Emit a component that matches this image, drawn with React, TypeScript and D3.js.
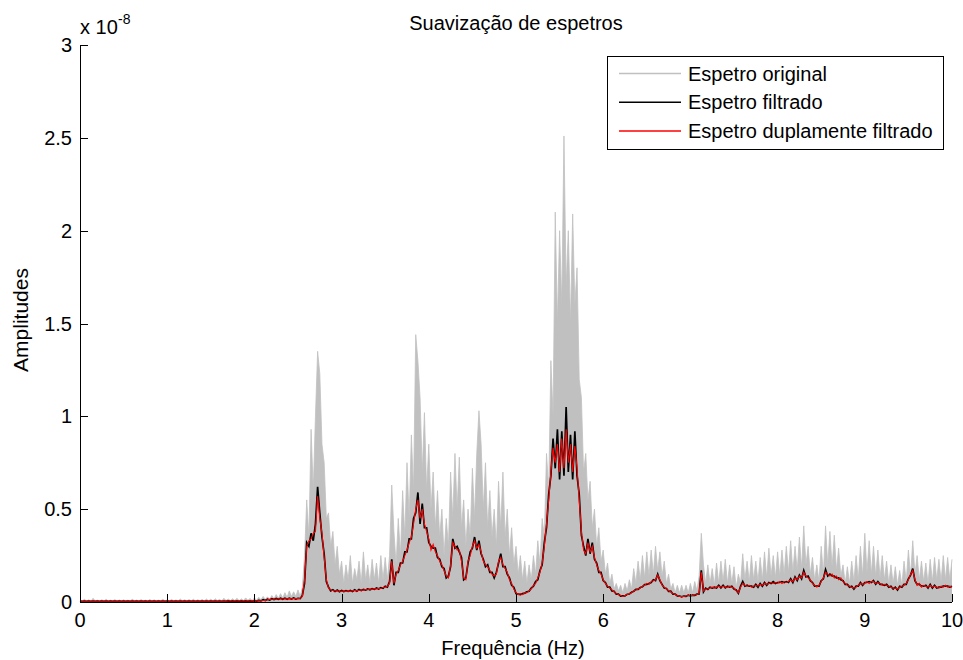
import React from "react";
import * as d3 from "d3";

// spectra sampled every 0.025 Hz from 0 to 10 Hz, amplitudes in units of 1e-8
const STEP = 0.025;

const origSpec = [
  0.01,0.004,0.015,0.005,0.012,0.004,0.02,0.006,0.01,0.004,0.012,0.005,0.015,0.004,0.01,0.006,0.013,0.004,0.011,0.005,
  0.012,0.005,0.01,0.004,0.016,0.005,0.011,0.004,0.013,0.006,0.01,0.004,0.014,0.005,0.012,0.004,0.01,0.006,0.015,0.005,
  0.012,0.005,0.014,0.006,0.011,0.005,0.016,0.006,0.012,0.005,0.013,0.006,0.015,0.005,0.012,0.006,0.014,0.005,0.016,0.006,
  0.015,0.006,0.018,0.007,0.014,0.006,0.02,0.008,0.016,0.007,0.018,0.008,0.02,0.007,0.017,0.008,0.022,0.009,0.019,0.008,
  0.022,0.009,0.025,0.012,0.03,0.014,0.028,0.015,0.035,0.018,0.04,0.02,0.045,0.022,0.05,0.025,0.06,0.03,0.055,0.03,
  0.065,0.03,0.08,0.25,0.55,0.35,0.93,0.6,1.0,1.35,1.23,0.85,0.75,0.45,0.48,0.3,0.38,0.2,0.3,0.15,
  0.22,0.1,0.2,0.12,0.25,0.1,0.18,0.12,0.22,0.1,0.27,0.12,0.2,0.1,0.23,0.12,0.21,0.1,0.25,0.12,
  0.24,0.12,0.25,0.63,0.38,0.2,0.45,0.25,0.6,0.35,0.75,0.45,0.9,0.6,1.44,1.3,1.1,0.7,1.02,0.6,
  0.85,0.5,0.7,0.4,0.6,0.35,0.5,0.25,0.45,0.3,0.7,0.45,0.8,0.5,0.78,0.4,0.55,0.3,0.5,0.35,
  0.72,0.45,0.8,1.03,0.85,0.5,0.75,0.4,0.6,0.35,0.5,0.3,0.65,0.4,0.7,0.35,0.5,0.25,0.4,0.2,
  0.3,0.15,0.25,0.12,0.22,0.1,0.2,0.12,0.25,0.15,0.33,0.2,0.45,0.35,0.8,0.6,1.3,1.0,2.1,1.5,
  2.0,1.6,2.51,1.7,2.0,1.5,2.09,1.6,1.8,1.2,1.1,0.7,0.8,0.55,0.65,0.4,0.5,0.3,0.4,0.22,
  0.28,0.15,0.21,0.1,0.15,0.07,0.1,0.06,0.09,0.05,0.1,0.06,0.12,0.07,0.18,0.1,0.22,0.12,0.25,0.13,
  0.27,0.14,0.28,0.15,0.3,0.17,0.27,0.14,0.22,0.1,0.15,0.07,0.1,0.05,0.09,0.05,0.09,0.05,0.09,0.05,
  0.1,0.05,0.11,0.06,0.14,0.37,0.2,0.1,0.2,0.1,0.18,0.09,0.21,0.1,0.22,0.11,0.23,0.1,0.2,0.1,
  0.19,0.08,0.15,0.1,0.26,0.12,0.22,0.11,0.25,0.12,0.22,0.11,0.24,0.12,0.27,0.13,0.29,0.14,0.25,0.13,
  0.27,0.14,0.28,0.15,0.3,0.16,0.33,0.16,0.3,0.17,0.35,0.18,0.41,0.2,0.3,0.15,0.24,0.12,0.2,0.11,
  0.3,0.15,0.41,0.2,0.38,0.19,0.36,0.17,0.29,0.14,0.2,0.1,0.19,0.1,0.22,0.11,0.25,0.12,0.3,0.14,
  0.37,0.16,0.33,0.15,0.3,0.14,0.28,0.13,0.25,0.12,0.22,0.1,0.2,0.1,0.19,0.09,0.17,0.09,0.22,0.11,
  0.28,0.14,0.33,0.15,0.25,0.12,0.22,0.11,0.21,0.1,0.23,0.11,0.24,0.12,0.23,0.11,0.25,0.12,0.24,0.12,
  0.23,
];

const filtSpec = [
  0.005,0.003,0.005,0.003,0.005,0.003,0.005,0.003,0.005,0.003,0.005,0.003,0.005,0.003,0.005,0.003,0.005,0.003,0.005,0.003,
  0.005,0.003,0.005,0.003,0.005,0.003,0.005,0.003,0.005,0.003,0.005,0.003,0.005,0.003,0.005,0.003,0.005,0.003,0.005,0.003,
  0.005,0.003,0.005,0.003,0.005,0.003,0.005,0.003,0.005,0.003,0.005,0.003,0.005,0.003,0.005,0.003,0.005,0.003,0.005,0.003,
  0.005,0.003,0.005,0.003,0.005,0.003,0.005,0.003,0.006,0.004,0.006,0.004,0.006,0.004,0.006,0.004,0.006,0.004,0.006,0.004,
  0.007,0.005,0.009,0.006,0.012,0.008,0.015,0.011,0.018,0.013,0.019,0.014,0.02,0.015,0.021,0.015,0.021,0.016,0.022,0.016,
  0.02,0.018,0.035,0.1,0.32,0.3,0.37,0.33,0.42,0.62,0.48,0.35,0.26,0.11,0.08,0.06,0.066,0.057,0.064,0.055,
  0.062,0.056,0.061,0.057,0.062,0.057,0.066,0.058,0.067,0.062,0.068,0.064,0.07,0.066,0.072,0.068,0.075,0.07,0.077,0.074,
  0.085,0.08,0.11,0.23,0.09,0.16,0.16,0.21,0.21,0.27,0.27,0.34,0.34,0.45,0.48,0.59,0.42,0.53,0.4,0.4,
  0.32,0.3,0.29,0.29,0.24,0.23,0.19,0.18,0.13,0.14,0.19,0.34,0.29,0.3,0.27,0.24,0.12,0.13,0.21,0.27,
  0.29,0.35,0.28,0.33,0.26,0.23,0.19,0.2,0.16,0.16,0.13,0.16,0.21,0.26,0.19,0.19,0.15,0.13,0.09,0.08,
  0.045,0.042,0.04,0.045,0.048,0.055,0.058,0.075,0.085,0.11,0.12,0.17,0.2,0.32,0.4,0.58,0.68,0.88,0.72,0.93,
  0.66,0.92,0.68,1.05,0.7,0.9,0.66,0.92,0.68,0.58,0.36,0.3,0.25,0.34,0.26,0.32,0.23,0.21,0.16,0.16,
  0.115,0.105,0.08,0.08,0.06,0.058,0.042,0.042,0.032,0.033,0.033,0.042,0.043,0.052,0.058,0.068,0.068,0.078,0.082,0.094,
  0.095,0.1,0.105,0.12,0.115,0.15,0.115,0.095,0.075,0.073,0.057,0.058,0.042,0.043,0.033,0.032,0.028,0.032,0.03,0.037,
  0.033,0.037,0.036,0.042,0.043,0.17,0.055,0.075,0.068,0.08,0.075,0.08,0.076,0.09,0.076,0.09,0.076,0.085,0.08,0.085,
  0.07,0.065,0.047,0.085,0.11,0.085,0.09,0.085,0.085,0.08,0.095,0.08,0.1,0.085,0.105,0.09,0.105,0.1,0.11,0.1,
  0.105,0.105,0.11,0.105,0.11,0.105,0.125,0.105,0.135,0.115,0.145,0.125,0.17,0.135,0.14,0.115,0.105,0.085,0.085,0.085,
  0.115,0.125,0.175,0.14,0.15,0.14,0.14,0.13,0.13,0.12,0.115,0.095,0.095,0.08,0.085,0.07,0.085,0.085,0.105,0.09,
  0.105,0.105,0.11,0.105,0.115,0.095,0.11,0.095,0.095,0.09,0.095,0.08,0.085,0.07,0.08,0.065,0.085,0.08,0.095,0.095,
  0.125,0.145,0.18,0.115,0.095,0.095,0.085,0.085,0.09,0.075,0.095,0.075,0.09,0.075,0.08,0.08,0.085,0.085,0.085,0.08,
  0.085,
];

const dblSpec = [
  0.004,0.004,0.004,0.004,0.004,0.004,0.004,0.004,0.004,0.004,0.004,0.004,0.004,0.004,0.004,0.004,0.004,0.004,0.004,0.004,
  0.004,0.004,0.004,0.004,0.004,0.004,0.004,0.004,0.004,0.004,0.004,0.004,0.004,0.004,0.004,0.004,0.004,0.004,0.004,0.004,
  0.004,0.004,0.004,0.004,0.004,0.004,0.004,0.004,0.004,0.004,0.004,0.004,0.004,0.004,0.004,0.004,0.004,0.004,0.004,0.004,
  0.004,0.004,0.004,0.004,0.004,0.004,0.004,0.004,0.005,0.005,0.005,0.005,0.005,0.005,0.005,0.005,0.005,0.005,0.005,0.005,
  0.006,0.006,0.007,0.007,0.008,0.008,0.012,0.014,0.015,0.015,0.016,0.016,0.017,0.016,0.017,0.017,0.018,0.017,0.018,0.018,
  0.018,0.02,0.03,0.12,0.3,0.33,0.34,0.37,0.38,0.57,0.45,0.37,0.24,0.12,0.075,0.065,0.062,0.06,0.06,0.058,
  0.058,0.06,0.057,0.06,0.058,0.06,0.062,0.06,0.063,0.065,0.064,0.067,0.066,0.07,0.068,0.072,0.07,0.074,0.073,0.078,
  0.08,0.085,0.1,0.22,0.1,0.15,0.17,0.2,0.22,0.25,0.28,0.32,0.35,0.42,0.5,0.55,0.45,0.5,0.42,0.38,
  0.34,0.28,0.31,0.27,0.25,0.22,0.2,0.17,0.14,0.13,0.2,0.32,0.3,0.28,0.28,0.22,0.13,0.12,0.22,0.25,
  0.3,0.33,0.29,0.31,0.27,0.22,0.2,0.19,0.17,0.15,0.14,0.15,0.22,0.24,0.2,0.18,0.16,0.12,0.1,0.07,
  0.05,0.04,0.045,0.04,0.05,0.05,0.06,0.07,0.09,0.1,0.13,0.16,0.21,0.3,0.42,0.55,0.7,0.83,0.75,0.85,
  0.7,0.88,0.72,0.93,0.75,0.85,0.7,0.84,0.72,0.55,0.38,0.28,0.26,0.32,0.27,0.3,0.24,0.2,0.17,0.15,
  0.12,0.1,0.085,0.075,0.065,0.055,0.045,0.04,0.035,0.03,0.035,0.04,0.045,0.05,0.06,0.065,0.07,0.075,0.085,0.09,
  0.1,0.095,0.11,0.115,0.12,0.145,0.12,0.09,0.08,0.07,0.06,0.055,0.045,0.04,0.035,0.03,0.03,0.03,0.032,0.035,
  0.035,0.035,0.038,0.04,0.045,0.16,0.06,0.07,0.07,0.075,0.08,0.075,0.08,0.085,0.08,0.085,0.08,0.08,0.085,0.08,
  0.075,0.06,0.05,0.08,0.1,0.09,0.085,0.09,0.08,0.085,0.09,0.085,0.095,0.09,0.1,0.095,0.1,0.105,0.1,0.105,
  0.1,0.11,0.1,0.11,0.105,0.11,0.12,0.11,0.13,0.12,0.14,0.13,0.16,0.14,0.13,0.12,0.1,0.09,0.08,0.09,
  0.11,0.13,0.16,0.15,0.14,0.15,0.13,0.14,0.12,0.13,0.11,0.1,0.09,0.085,0.08,0.075,0.08,0.09,0.1,0.095,
  0.1,0.11,0.1,0.11,0.11,0.1,0.105,0.1,0.09,0.095,0.09,0.085,0.08,0.075,0.075,0.07,0.08,0.085,0.09,0.1,
  0.12,0.15,0.17,0.12,0.09,0.1,0.08,0.09,0.085,0.08,0.09,0.08,0.085,0.08,0.075,0.085,0.08,0.09,0.08,0.085,
  0.08,
];

const xTicks = [0, 1, 2, 3, 4, 5, 6, 7, 8, 9, 10];
const yTicks = [0, 0.5, 1, 1.5, 2, 2.5, 3];
const yTickLabels = ["0", "0.5", "1", "1.5", "2", "2.5", "3"];
const legendLabels = ["Espetro original", "Espetro filtrado", "Espetro duplamente filtrado"];
const seriesColors = ["#c0c0c0", "#000000", "#ff0000"];

const FONT = "'Liberation Sans', Arial, sans-serif";

export default function App() {
  const width = 963, height = 660;
  const x = d3.scaleLinear().domain([0, 10]).range([80, 952]);
  const y = d3.scaleLinear().domain([0, 3]).range([602, 45]);

  const line = d3.line<number>().x((d, i) => x(i * STEP)).y(d => y(d));
  const area = d3.area<number>().x((d, i) => x(i * STEP)).y0(y(0)).y1(d => y(d));

  const tick = 8;

  return (
    <svg width={width} height={height} style={{ position: "absolute", left: 0, top: 0, background: "#fff" }}
      fontFamily={FONT}>
      <rect width={width} height={height} fill="#fff" />

      {/* data */}
      <path d={area(origSpec) || ""} fill={seriesColors[0]} />
      <path d={line(origSpec) || ""} fill="none" stroke={seriesColors[0]} strokeWidth={0.8} />
      <path d={line(filtSpec) || ""} fill="none" stroke={seriesColors[1]} strokeWidth={1.7} />
      <path d={line(dblSpec) || ""} fill="none" stroke={seriesColors[2]} strokeWidth={1.1} />

      {/* axes */}
      <line x1={x(0)} x2={x(10)} y1={y(0) + 0.5} y2={y(0) + 0.5} stroke="#000" />
      <line x1={x(0) + 0.5} x2={x(0) + 0.5} y1={y(0)} y2={y(3)} stroke="#000" />
      {xTicks.map(t => (
        <g key={"x" + t}>
          <line x1={Math.round(x(t)) + 0.5} x2={Math.round(x(t)) + 0.5} y1={y(0)} y2={y(0) - tick} stroke="#000" />
          <text x={x(t)} y={627} textAnchor="middle" fontSize={20} fill="#000">{t}</text>
        </g>
      ))}
      {yTicks.map((t, i) => (
        <g key={"y" + t}>
          <line x1={x(0)} x2={x(0) + tick} y1={Math.round(y(t)) + 0.5} y2={Math.round(y(t)) + 0.5} stroke="#000" />
          <text x={72} y={y(t) + 7} textAnchor="end" fontSize={20} fill="#000">{yTickLabels[i]}</text>
        </g>
      ))}

      {/* exponent */}
      <text x={80} y={34} fontSize={20} fill="#000">x 10</text>
      <text x={118} y={24} fontSize={14} fill="#000">-8</text>

      {/* titles */}
      <text x={516} y={30} textAnchor="middle" fontSize={20} fill="#000">Suavização de espetros</text>
      <text x={513} y={655} textAnchor="middle" fontSize={20} fill="#000">Frequência (Hz)</text>
      <text transform="translate(28,320) rotate(-90)" textAnchor="middle" fontSize={21} fill="#000">Amplitudes</text>

      {/* legend */}
      <rect x={607.5} y={56.5} width={336} height={93} fill="#fff" stroke="#000" />
      {legendLabels.map((lab, i) => (
        <g key={lab}>
          <line x1={619} x2={681} y1={73.5 + i * 28.7} y2={73.5 + i * 28.7} stroke={seriesColors[i]} strokeWidth={1.5} />
          <text x={688} y={80.5 + i * 28.7} fontSize={20} fill="#000">{lab}</text>
        </g>
      ))}
    </svg>
  );
}
